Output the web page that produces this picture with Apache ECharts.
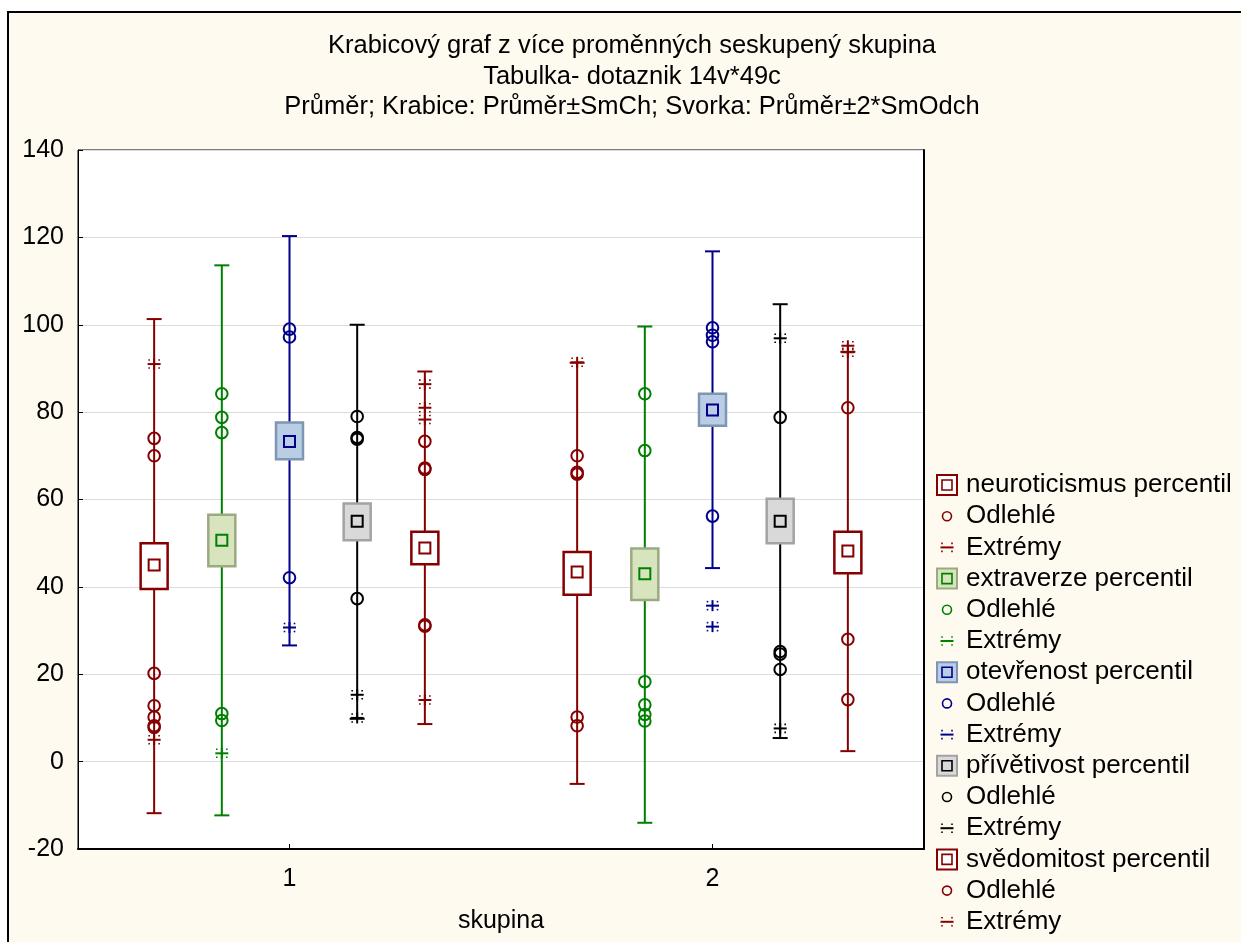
<!DOCTYPE html>
<html>
<head>
<meta charset="utf-8">
<script src="https://cdn.jsdelivr.net/npm/echarts@6/dist/echarts.min.js"></script>
<style>html,body{margin:0;padding:0;background:#fff}#c{width:1241px;height:942px}</style>
</head>
<body>
<div id="c"></div>
<script>
// ---- data ----
const categories = ['1', '2'];
const yTicks = [-20, 0, 20, 40, 60, 80, 100, 120, 140];
const titleLines = [
  'Krabicový graf z více proměnných seskupený skupina',
  'Tabulka- dotaznik 14v*49c',
  'Průměr; Krabice: Průměr±SmCh; Svorka: Průměr±2*SmOdch'
];
const variables = ['neuroticismus percentil', 'extraverze percentil', 'otevřenost percentil', 'přívětivost percentil', 'svědomitost percentil'];

// per variable: [group1, group2]
const means    = [[45.0, 43.4], [50.7, 43.0], [73.3, 80.5], [55.0, 55.0], [48.9, 48.2]];
const boxLow   = [[39.5, 38.2], [44.7, 37.0], [69.2, 76.9], [50.7, 50.0], [45.2, 43.1]];
const boxHigh  = [[50.0, 48.0], [56.5, 48.8], [77.6, 84.2], [59.1, 60.2], [52.6, 52.6]];
const capLow   = [[-11.8, -5.1], [-12.3, -14.0], [26.6, 44.3], [9.8, 5.4], [8.6, 2.4]];
const capHigh  = [[101.3, 91.3], [113.6, 99.6], [120.3, 116.8], [100.0, 104.7], [89.3, 93.8]];

const outliers = [
  [[74, 70, 20.2, 12.8, 10.2, 8.2, 7.8], [70, 66.2, 65.8, 10.2, 8.2]],
  [[84.2, 78.8, 75.3, 11.0, 9.4], [84.2, 71.2, 18.3, 13.0, 10.8, 9.3]],
  [[99.0, 97.2, 42.1], [99.3, 97.6, 96.1, 56.2]],
  [[79.0, 74.2, 73.8, 37.3], [78.8, 25.2, 24.6, 21.1]],
  [[73.3, 67.2, 66.9, 31.3, 31.0], [81.0, 28.0, 14.2]]
];
const extremes = [
  [[91.0, 5.0], [91.4]],
  [[1.9], []],
  [[30.7], [35.7, 30.9]],
  [[15.3, 10.0], [96.9, 7.6]],
  [[86.4, 81.0, 78.3, 14.1], [95.2, 93.7]]
];

// ---- styles ----
const lineColors = ['#870000', '#008000', '#00008B', '#000000', '#870000'];
const boxFills   = ['#FFFFFF', '#D7E4BD', '#B9CDE5', '#D9D9D9', '#FFFFFF'];
const boxBorders = ['#870000', '#9BAA82', '#7F96B2', '#A3A3A3', '#870000'];
const offsetFrac = [-0.32, -0.16, 0, 0.16, 0.32];
const FONT = 'Liberation Sans, Arial, sans-serif';

function xCenter(api, cat, vi) {
  const band = api.size([1, 0])[0];
  return api.coord([cat, 0])[0] + offsetFrac[vi] * band;
}

function boxRenderer(vi) {
  return function (params, api) {
    const cat = api.value(0);
    const cx = xCenter(api, cat, vi);
    const yCl = api.coord([cat, api.value(1)])[1];
    const yBl = api.coord([cat, api.value(2)])[1];
    const yM  = api.coord([cat, api.value(3)])[1];
    const yBh = api.coord([cat, api.value(4)])[1];
    const yCh = api.coord([cat, api.value(5)])[1];
    const col = lineColors[vi];
    const bw = 27, cw = 15, mw = 11;
    return {
      type: 'group',
      children: [
        { type: 'line', shape: { x1: cx, y1: yCl, x2: cx, y2: yCh }, style: { stroke: col, lineWidth: 2 } },
        { type: 'line', shape: { x1: cx - cw / 2, y1: yCl, x2: cx + cw / 2, y2: yCl }, style: { stroke: col, lineWidth: 2 } },
        { type: 'line', shape: { x1: cx - cw / 2, y1: yCh, x2: cx + cw / 2, y2: yCh }, style: { stroke: col, lineWidth: 2 } },
        { type: 'rect', shape: { x: cx - bw / 2, y: yBh, width: bw, height: yBl - yBh }, style: { fill: boxFills[vi], stroke: boxBorders[vi], lineWidth: 2.5 } },
        { type: 'rect', shape: { x: cx - mw / 2, y: yM - mw / 2, width: mw, height: mw }, style: { fill: boxFills[vi], stroke: col, lineWidth: 2 } }
      ]
    };
  };
}

function outlierRenderer(vi) {
  return function (params, api) {
    const cat = api.value(0);
    const cx = xCenter(api, cat, vi);
    const y = api.coord([cat, api.value(1)])[1];
    return { type: 'circle', shape: { cx: cx, cy: y, r: 5.8 }, style: { fill: 'none', stroke: lineColors[vi], lineWidth: 2 } };
  };
}

function extremeShape(cx, y, col, withVertical) {
  const ch = [
    { type: 'line', shape: { x1: cx - 6.5, y1: y, x2: cx + 6.5, y2: y }, style: { stroke: col, lineWidth: 2 } }
  ];
  if (withVertical) ch.push({ type: 'line', shape: { x1: cx, y1: y - 5.5, x2: cx, y2: y + 5.5 }, style: { stroke: col, lineWidth: 2 } });
  [[-5, -4], [5, -4], [-5, 4], [5, 4]].forEach(function (d) {
    ch.push({ type: 'rect', shape: { x: cx + d[0] - 0.8, y: y + d[1] - 0.8, width: 1.6, height: 1.6 }, style: { fill: col } });
  });
  return ch;
}

function extremeRenderer(vi) {
  return function (params, api) {
    const cat = api.value(0);
    const cx = xCenter(api, cat, vi);
    const y = api.coord([cat, api.value(1)])[1];
    return { type: 'group', children: extremeShape(cx, y, lineColors[vi], true) };
  };
}

const series = [];
variables.forEach(function (name, vi) {
  const boxData = categories.map(function (c, ci) {
    return [ci, capLow[vi][ci], boxLow[vi][ci], means[vi][ci], boxHigh[vi][ci], capHigh[vi][ci]];
  });
  series.push({ type: 'custom', name: name, renderItem: boxRenderer(vi), data: boxData, z: 2,
    encode: { x: 0, y: [1, 5] }, clip: true });
  const od = [];
  outliers[vi].forEach(function (arr, ci) { arr.forEach(function (v) { od.push([ci, v]); }); });
  series.push({ type: 'custom', name: 'Odlehlé', renderItem: outlierRenderer(vi), data: od, z: 3, encode: { x: 0, y: 1 } });
  const ed = [];
  extremes[vi].forEach(function (arr, ci) { arr.forEach(function (v) { ed.push([ci, v]); }); });
  series.push({ type: 'custom', name: 'Extrémy', renderItem: extremeRenderer(vi), data: ed, z: 3, encode: { x: 0, y: 1 } });
});

// ---- legend as graphic ----
const legendGraphics = [];
const legX = 937, legY0 = 485, legStep = 31.2;
variables.forEach(function (name, vi) {
  const rows = [name, 'Odlehlé', 'Extrémy'];
  rows.forEach(function (label, k) {
    const y = legY0 + (vi * 3 + k) * legStep;
    const col = lineColors[vi];
    let icon;
    if (k === 0) {
      icon = [
        { type: 'rect', shape: { x: legX, y: y - 10, width: 20, height: 20 }, style: { fill: boxFills[vi], stroke: boxBorders[vi], lineWidth: 2 } },
        { type: 'rect', shape: { x: legX + 5, y: y - 5, width: 10, height: 10 }, style: { fill: boxFills[vi], stroke: col, lineWidth: 1.6 } }
      ];
    } else if (k === 1) {
      icon = [{ type: 'circle', shape: { cx: legX + 10, cy: y, r: 4.5 }, style: { fill: 'none', stroke: col, lineWidth: 1.6 } }];
    } else {
      icon = extremeShape(legX + 10, y, col, false);
    }
    legendGraphics.push({ type: 'group', children: icon });
    legendGraphics.push({ type: 'text', x: 966, y: y, style: { text: label, font: '26px ' + FONT, fill: '#000', textVerticalAlign: 'middle', verticalAlign: 'middle' } });
  });
});

const titleGraphics = titleLines.map(function (t, i) {
  return { type: 'text', x: 632, y: 46 + i * 30.5, style: { text: t, font: '25.5px ' + FONT, fill: '#000', textAlign: 'center', align: 'center', verticalAlign: 'middle', textVerticalAlign: 'middle' } };
});

const chart = echarts.init(document.getElementById('c'), null, { renderer: 'canvas' });
chart.setOption({
  backgroundColor: '#FFFFFF',
  animation: false,
  graphic: [
    { type: 'rect', z: -100, shape: { x: 8, y: 12, width: 1300, height: 1000 }, style: { fill: '#FEFAF0', stroke: '#000', lineWidth: 2 } }
  ].concat(titleGraphics, legendGraphics),
  grid: { left: 78, top: 150, width: 846, height: 699, show: true, backgroundColor: '#FFFFFF', borderColor: '#000', borderWidth: 1 },
  xAxis: {
    type: 'category', data: categories, boundaryGap: true,
    axisLine: { show: true, onZero: false, lineStyle: { color: '#000', width: 2 } },
    axisTick: { show: true, inside: true, alignWithLabel: true, length: 5, lineStyle: { color: '#000' } },
    axisLabel: { fontSize: 25, fontFamily: FONT, color: '#000', margin: 18 },
    splitLine: { show: false },
    name: 'skupina', nameLocation: 'middle', nameGap: 60,
    nameTextStyle: { fontSize: 25, fontFamily: FONT, color: '#000' }
  },
  yAxis: [{
    type: 'value', min: -20, max: 140, interval: 20,
    axisLine: { show: true, onZero: false, lineStyle: { color: '#000', width: 1 } },
    axisTick: { show: true, inside: true, length: 5, lineStyle: { color: '#000' } },
    axisLabel: { fontSize: 25, fontFamily: FONT, color: '#000', margin: 14,
      formatter: function (v) { return yTicks.indexOf(v) >= 0 ? String(v) : ''; } },
    splitLine: { show: true, lineStyle: { color: '#DCDCDC', width: 1 } }
  }, {
    type: 'value', min: -20, max: 140, interval: 20, position: 'right',
    axisLine: { show: true, onZero: false, lineStyle: { color: '#000', width: 2 } },
    axisTick: { show: false }, axisLabel: { show: false }, splitLine: { show: false }
  }],
  series: series
});
</script>
</body>
</html>
